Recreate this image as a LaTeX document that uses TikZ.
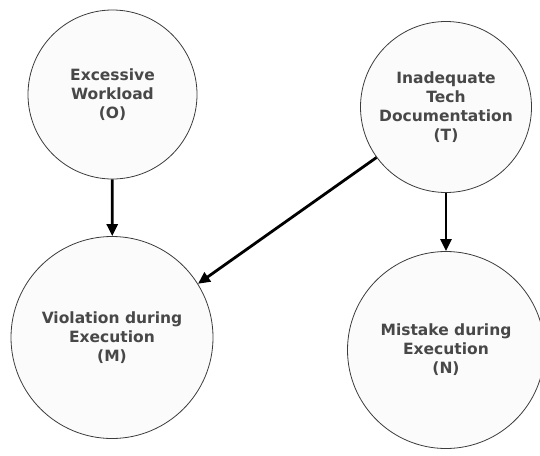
\documentclass[tikz,border=0pt]{standalone}
\usepackage{fontspec}
\setmainfont{DejaVu Sans}
\usetikzlibrary{arrows.meta}
\definecolor{labelgray}{HTML}{484848}
\definecolor{rimgray}{HTML}{3C3C3C}
\definecolor{nodefill}{HTML}{FBFBFC}
\begin{document}
\begin{tikzpicture}[x=1pt,y=-1pt,
  factor/.style={circle, draw=rimgray, line width=0.8pt, fill=nodefill,
    inner sep=0pt, align=center, text=labelgray,
    font=\bfseries\fontsize{15.5}{19}\selectfont},
  influence/.style={line width=2.8pt, -{Triangle[length=12pt,width=11pt]}}]
  \useasboundingbox (0,0) rectangle (540,455);
  % causal factors
  \node[factor, minimum size=169pt] (O) at (112.5,94.5)
    {Excessive\\Workload\\(O)};
  \node[factor, minimum size=171pt] (T) at (446,107)
    {Inadequate\\Tech\\Documentation\\(T)};
  % outcomes
  \node[factor, minimum size=202pt] (M) at (112,337.5)
    {Violation during\\Execution\\(M)};
  \node[factor, minimum size=197pt] (N) at (446,350)
    {Mistake during\\Execution\\(N)};
  % influences
  \draw[influence] (O) -- (M);
  \draw[influence] (T) -- (N);
  \draw[influence] (T.216.6) -- (M.32.8);
\end{tikzpicture}
\end{document}
